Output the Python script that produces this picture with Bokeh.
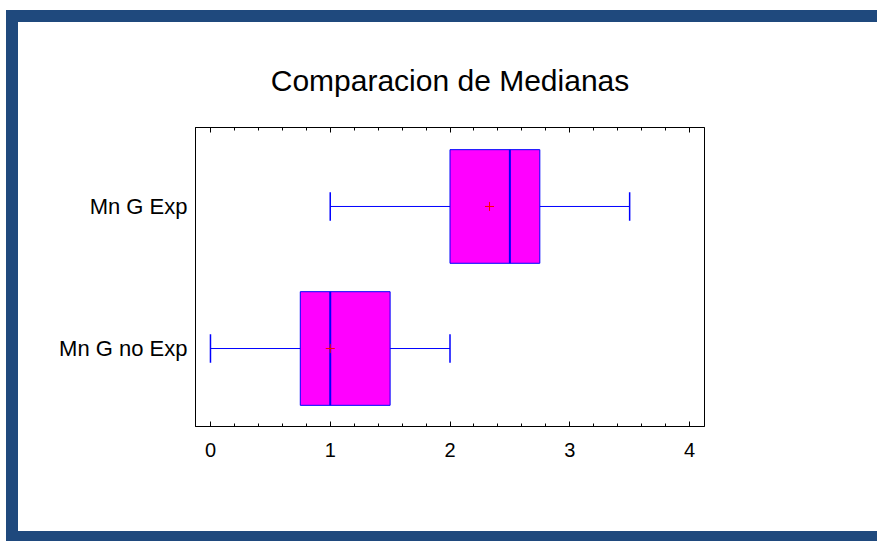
from bokeh.plotting import figure
from bokeh.models import (Range1d, LinearAxis, FixedTicker, SingleIntervalTicker,
                          ColumnDataSource)
from bokeh.embed import file_html
from bokeh.resources import INLINE

# ---- data ----
categories = ["Mn G Exp", "Mn G no Exp"]
positions = [2, 1]
lower_whisker = [1.0, 0.0]
q1 = [2.0, 0.75]
median = [2.5, 1.0]
q3 = [2.75, 1.5]
upper_whisker = [3.5, 2.0]
mean = [2.33, 1.0]

BOX_H = 0.8
CAP_H = 0.2
FONT = "Liberation Sans"
BORDER = "#1F497D"

src = ColumnDataSource(dict(
    pos=positions, lo=lower_whisker, q1=q1, med=median, q3=q3, hi=upper_whisker, mean=mean,
    cap_b=[v - CAP_H / 2 for v in positions], cap_t=[v + CAP_H / 2 for v in positions],
    box_b=[v - BOX_H / 2 for v in positions], box_t=[v + BOX_H / 2 for v in positions],
))

W, H = 859, 509
p = figure(width=W, height=H, output_backend="svg", toolbar_location=None,
           x_range=Range1d(-0.125, 4.125), y_range=Range1d(0.451, 2.556),
           x_axis_location=None, y_axis_location=None,
           title="Comparacion de Medianas",
           min_border_left=177, min_border_right=185,
           min_border_top=105, min_border_bottom=127)
p.styles = {
    "margin-left": "6px",
    "margin-top": "10px",
    "border-left": f"12px solid {BORDER}",
    "border-top": f"12px solid {BORDER}",
    "border-bottom": f"10px solid {BORDER}",
    "box-sizing": "content-box",
}
p.grid.visible = False
p.background_fill_color = "white"
p.border_fill_color = "white"
p.outline_line_color = "black"
p.outline_line_width = 1

p.title.align = "center"
p.title.text_font = FONT
p.title.text_font_size = "30px"
p.title.text_font_style = "normal"
p.title.text_color = "black"
p.title.standoff = 62

def style_x(ax, labels=True):
    ax.major_tick_in = 5
    ax.major_tick_out = 0
    ax.minor_tick_in = 3
    ax.minor_tick_out = 0
    ax.axis_line_color = "black"
    ax.major_tick_line_color = "black"
    ax.minor_tick_line_color = "black"
    if labels:
        ax.major_label_text_font = FONT
        ax.major_label_text_font_size = "20px"
        ax.major_label_text_color = "black"
        ax.major_label_standoff = 16
    else:
        ax.major_label_text_font_size = "0px"
        ax.major_label_text_color = None
        ax.major_label_standoff = 0

xb = LinearAxis(ticker=SingleIntervalTicker(interval=1, num_minor_ticks=5))
style_x(xb)
p.add_layout(xb, "below")
xt = LinearAxis(ticker=SingleIntervalTicker(interval=1, num_minor_ticks=5))
style_x(xt, labels=False)
p.add_layout(xt, "above")

yl = LinearAxis(ticker=FixedTicker(ticks=positions),
                major_label_overrides=dict(zip(positions, categories)))
yl.major_tick_in = 0
yl.major_tick_out = 0
yl.minor_tick_line_color = None
yl.axis_line_color = "black"
yl.major_label_text_font = FONT
yl.major_label_text_font_size = "22px"
yl.major_label_text_color = "black"
yl.major_label_standoff = 8
p.add_layout(yl, "left")

# whiskers
p.segment(x0="lo", y0="pos", x1="q1", y1="pos", source=src, line_color="#0000FF", line_width=1)
p.segment(x0="q3", y0="pos", x1="hi", y1="pos", source=src, line_color="#0000FF", line_width=1)
p.segment(x0="lo", y0="cap_b", x1="lo", y1="cap_t", source=src, line_color="#0000FF", line_width=1.5)
p.segment(x0="hi", y0="cap_b", x1="hi", y1="cap_t", source=src, line_color="#0000FF", line_width=1.5)
# boxes
p.quad(left="q1", right="q3", bottom="box_b", top="box_t", source=src,
       fill_color="#FF00FF", line_color="#0000FF", line_width=1)
# medians
p.segment(x0="med", y0="box_b", x1="med", y1="box_t", source=src, line_color="#0000FF", line_width=2)
# means
p.scatter(x="mean", y="pos", source=src, marker="cross", size=9, line_color="#FF0000", line_width=1)

open("out.html", "w").write(file_html(p, INLINE))
